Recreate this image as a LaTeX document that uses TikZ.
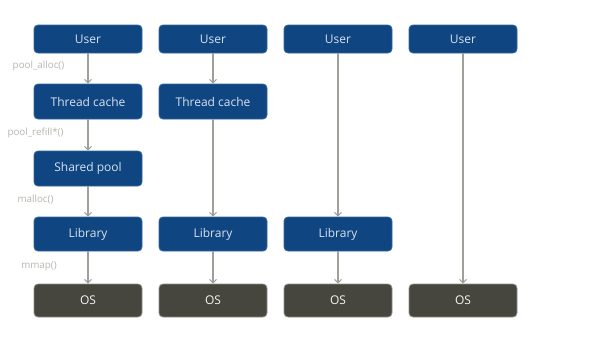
\documentclass[tikz,border=0pt]{standalone}
\usepackage{fontspec}
\setmainfont{Open Sans}
\usetikzlibrary{arrows.meta}
\definecolor{boxblue}{HTML}{0F4580}
\definecolor{boxblueedge}{HTML}{3565A0}
\definecolor{osfill}{HTML}{46463F}
\definecolor{osedge}{HTML}{8E8E88}
\definecolor{arrowgray}{HTML}{A0A09B}
\definecolor{labelgray}{HTML}{B5B5AF}
\definecolor{boxtext}{HTML}{D8E2F0}
\tikzset{
  bluebox/.style={draw=boxblueedge, line width=0.8pt, fill=boxblue, rounded corners=4pt,
    minimum width=108pt, text=boxtext, font=\fontsize{12}{14}\selectfont, inner sep=0pt},
  osbox/.style={draw=osedge, line width=0.8pt, fill=osfill, rounded corners=4pt,
    minimum width=108pt, minimum height=33pt, text=white!92!gray, font=\fontsize{12}{14}\selectfont, inner sep=0pt},
  conn/.style={draw=arrowgray, line width=1.2pt, -{Straight Barb[length=3.5pt,width=7pt,line width=1pt]}},
  calllabel/.style={text=labelgray, font=\fontsize{9.8}{11}\selectfont, inner sep=0pt}
}
\begin{document}
\begin{tikzpicture}[x=1pt,y=-1pt]
\useasboundingbox (0,0) rectangle (601,351);
% column 1
\node[bluebox, minimum height=28pt] (u1) at (88,39) {User};
\node[bluebox, minimum height=35pt] (t1) at (88,101.5) {Thread cache};
\node[bluebox, minimum height=35pt] (s1) at (88,168.5) {Shared pool};
\node[bluebox, minimum height=34pt] (l1) at (88,234) {Library};
\node[osbox] (o1) at (88,300.5) {OS};
% column 2
\node[bluebox, minimum height=28pt] (u2) at (213,39) {User};
\node[bluebox, minimum height=35pt] (t2) at (213,101.5) {Thread cache};
\node[bluebox, minimum height=34pt] (l2) at (213,234) {Library};
\node[osbox] (o2) at (213,300.5) {OS};
% column 3
\node[bluebox, minimum height=28pt] (u3) at (338,39) {User};
\node[bluebox, minimum height=34pt] (l3) at (338,234) {Library};
\node[osbox] (o3) at (338,300.5) {OS};
% column 4
\node[bluebox, minimum height=28pt] (u4) at (463,39) {User};
\node[osbox] (o4) at (463,300.5) {OS};
% connectors
\draw[conn] (u1) -- (t1);
\draw[conn] (t1) -- (s1);
\draw[conn] (s1) -- (l1);
\draw[conn] (l1) -- (o1);
\draw[conn] (u2) -- (t2);
\draw[conn] (t2) -- (l2);
\draw[conn] (l2) -- (o2);
\draw[conn] (u3) -- (l3);
\draw[conn] (l3) -- (o3);
\draw[conn] (u4) -- (o4);
% labels
\node[calllabel] (la) at (38.5,66) {pool\_alloc()};
\node[calllabel] (lb) at (35.5,132.5) {pool\_refill*()};
\node[calllabel] (lc) at (35.5,199.5) {malloc()};
\node[calllabel] (ld) at (39,266.5) {mmap()};
\end{tikzpicture}
\end{document}
